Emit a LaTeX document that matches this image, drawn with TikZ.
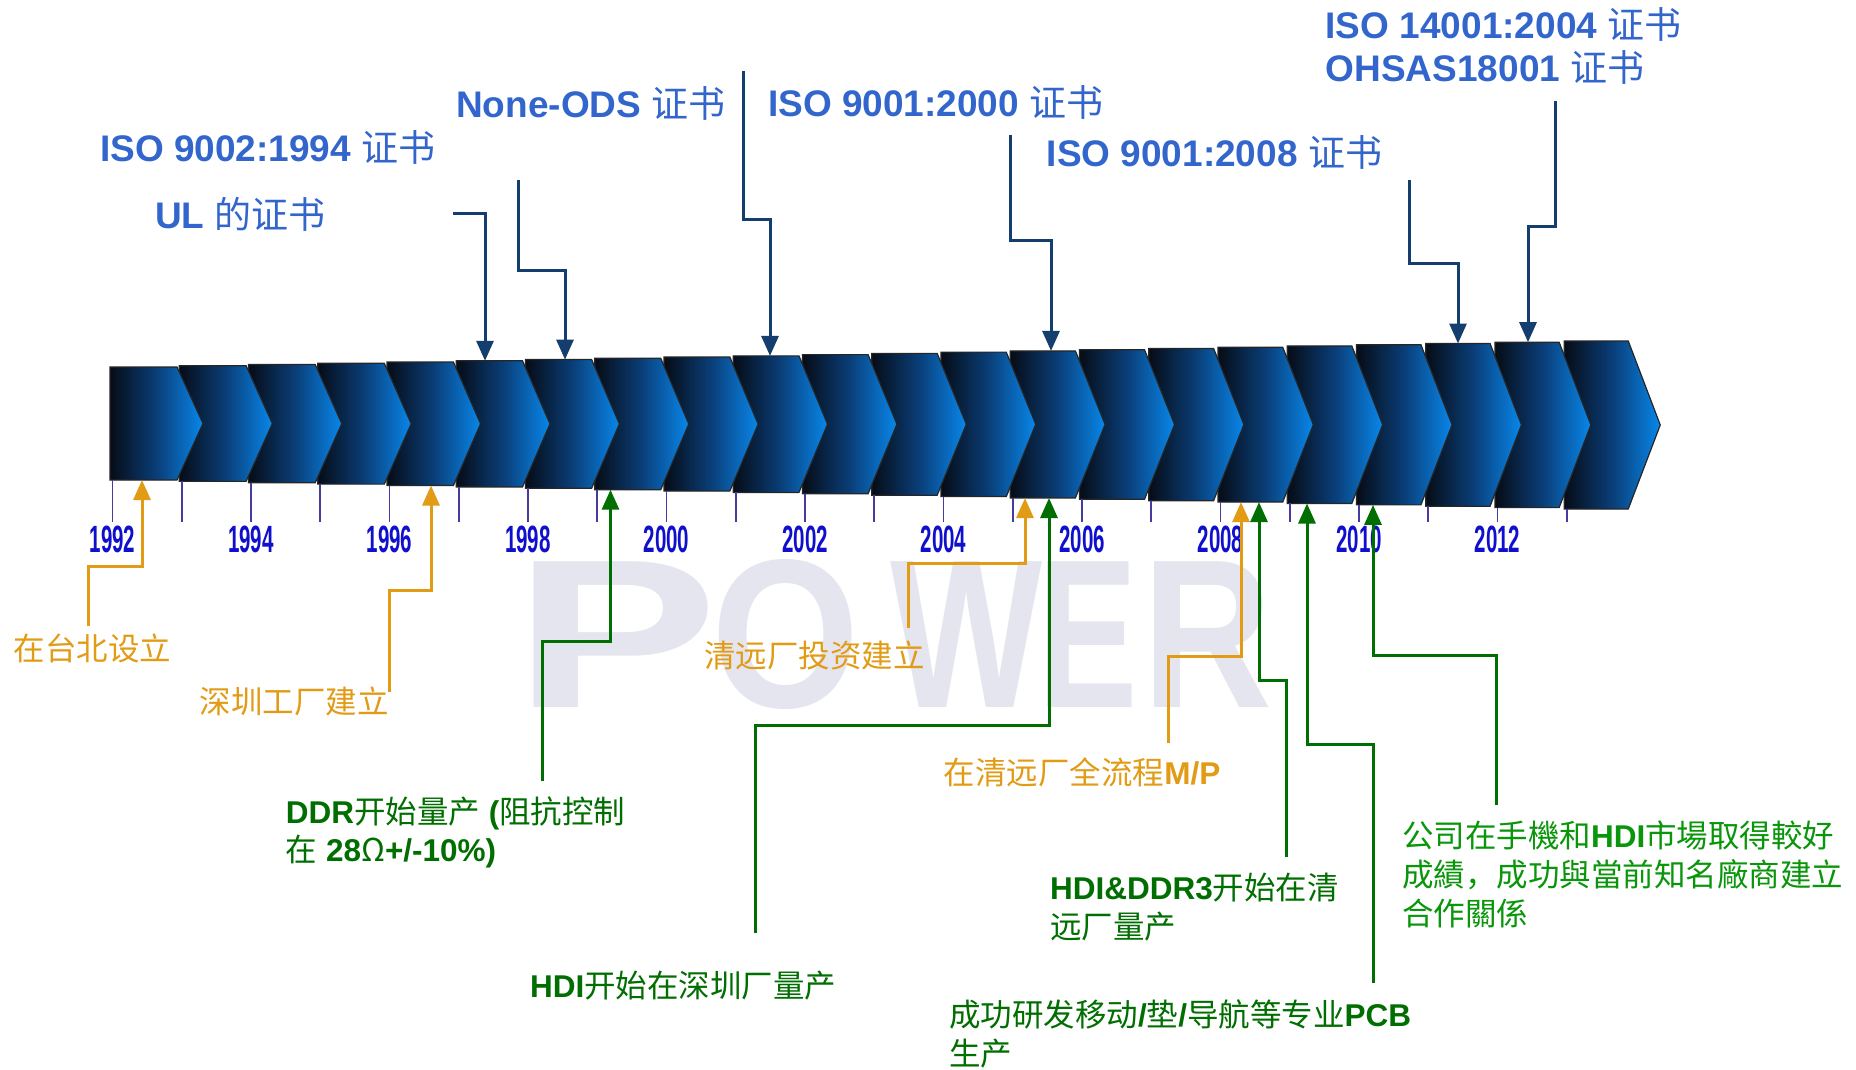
\documentclass[tikz,border=0pt]{standalone}
\usepackage{fontspec}
\setmainfont{Liberation Sans}
\newfontfamily\cjk{Noto Sans CJK SC}
\usetikzlibrary{arrows.meta}
\definecolor{topblue}{RGB}{51,102,204}
\definecolor{navyc}{RGB}{20,62,110}
\definecolor{orangeL}{RGB}{226,155,20}
\definecolor{greenD}{RGB}{0,110,0}
\definecolor{greenL}{RGB}{10,150,10}
\definecolor{tickc}{RGB}{70,60,160}
\definecolor{yearc}{RGB}{15,15,205}
\definecolor{wmc}{RGB}{229,229,239}
\definecolor{chevL}{RGB}{6,12,22}
\definecolor{chevM}{RGB}{10,62,120}
\definecolor{chevR}{RGB}{8,135,235}
\newcommand\zh[1]{{\cjk #1}}
\begin{document}
\begin{tikzpicture}[x=1pt,y=-1pt,
  chev/.style={draw=black!85, line width=1.2pt, left color=chevL, right color=chevR, middle color=chevM},
  tickline/.style={draw=tickc, line width=1.6pt},
  year/.style={font=\fontsize{38}{38}\selectfont\bfseries, text=yearc, xscale=0.54, fill=white, inner xsep=10pt, inner ysep=0.5pt},
  wmk/.style={font=\fontsize{212}{212}\selectfont\bfseries, text=wmc, inner sep=0, anchor=base},
  toplab/.style={inner sep=0, anchor=base west, text=topblue, font=\fontsize{37}{43.4}\selectfont},
  orlab/.style={inner sep=0, anchor=west, align=left, text=orangeL, font=\fontsize{31.5}{39}\selectfont},
  grlab/.style={inner sep=0, anchor=west, align=left, text=greenD, font=\fontsize{31.5}{39}\selectfont},
  tipa/.style={-{Triangle[width=17pt,length=20pt]}, line width=3pt},
  navyarr/.style={tipa, draw=navyc},
  orarr/.style={tipa, draw=orangeL},
  grarr/.style={tipa, draw=greenD}]
\useasboundingbox (0,0) rectangle (1856,1070);
\fill[white] (0,0) rectangle (1856,1070);
% watermark
\node[wmk, xscale=1.45] (wP) at (616,707) {P};
\node[wmk, xscale=0.90] (wO) at (785.5,707) {O};
\node[wmk, xscale=0.76] (wW) at (967,707) {W};
\node[wmk, xscale=0.71] (wE) at (1087.5,707) {E};
\node[wmk, xscale=0.85] (wR) at (1208,707) {R};
% chevrons (earlier ones on top)
\foreach \i in {21,20,...,0}{
  \pgfmathsetmacro\L{110+69.25*\i}
  \pgfmathsetmacro\T{367-26*\i/21}
  \pgfmathsetmacro\B{480+29*\i/21}
  \pgfmathsetmacro\C{(\T+\B)/2}
  \pgfmathsetmacro\P{\L+93+3*\i/21}
  \pgfmathsetmacro\S{\P-26-6*\i/21}
  \path[chev] (\L,\T) -- (\S,\T) -- (\P,\C) -- (\S,\B) -- (\L,\B) -- cycle;
}
% ticks
\foreach \i in {0,...,21}{
  \pgfmathsetmacro\L{112.5+69.25*\i}
  \pgfmathsetmacro\B{480+29*\i/21}
  \draw[tickline] (\L,\B) -- (\L,522);
}
% years
\foreach \i in {0,2,...,20}{
  \pgfmathsetmacro\L{112.5+69.25*\i}
  \pgfmathtruncatemacro\Y{1992+\i}
  \node[year] (y\Y) at (\L,539) {\Y};
}
% top labels
\node[toplab] (iso9002) at (100,162) {\textbf{ISO 9002:1994} \zh{证书}};
\node[toplab] (ul) at (155,228) {\textbf{UL} \zh{的证书}};
\node[toplab] (nods) at (456,118) {\textbf{None-ODS} \zh{证书}};
\node[toplab] (iso2000) at (768,117) {\textbf{ISO 9001:2000} \zh{证书}};
\node[toplab] (iso2008) at (1046.6,166.7) {\textbf{ISO 9001:2008} \zh{证书}};
\node[toplab, align=left] (iso14001) at (1325.5,81.7) {\textbf{ISO 14001:2004} \zh{证书}\\\textbf{OHSAS18001} \zh{证书}};
% bottom labels
\node[orlab] (taipei) at (13.4,648) {\zh{在台北设立}};
\node[orlab] (shenzhen) at (199.6,701) {\zh{深圳工厂建立}};
\node[orlab] (qingyuan) at (704,655.5) {\zh{清远厂投资建立}};
\node[orlab] (mp) at (943.6,772.5) {\zh{在清远厂全流程}\textbf{M/P}};
\node[grlab, font=\fontsize{31.5}{38}\selectfont] (ddr) at (285.7,832) {\textbf{DDR}\zh{开始量产} \textbf{(}\zh{阻抗控制}\\\zh{在} \textbf{28}\zh{Ω}\textbf{+/-10\%)}};
\node[grlab] (hdi) at (530,985.5) {\textbf{HDI}\zh{开始在深圳厂量产}};
\node[grlab] (hdiddr3) at (1050,907.5) {\textbf{HDI\&DDR3}\zh{开始在清}\\\zh{远厂量产}};
\node[grlab] (pcb) at (949,1034) {\zh{成功研发移动}\textbf{/}\zh{垫}\textbf{/}\zh{导航等专业}\textbf{PCB}\\\zh{生产}};
\node[grlab, text=greenL] (gongsi) at (1402,874) {\zh{公司在手機和}\textbf{HDI}\zh{市場取得較好}\\\zh{成績，成功與當前知名廠商建立}\\\zh{合作關係}};
% connector end points
\coordinate (s1) at (453,213);   \coordinate (e1) at (485,360.8);
\coordinate (s2) at (518,180);   \coordinate (e2) at (565,359.6);
\coordinate (s3) at (743,71);    \coordinate (e3) at (770,355.9);
\coordinate (s4) at (1010,135);  \coordinate (e4) at (1051,350.9);
\coordinate (s5) at (1409,180);  \coordinate (e5) at (1458,343.5);
\coordinate (s6) at (1555,101);  \coordinate (e6) at (1528,342.2);
\coordinate (b1) at (88,626);    \coordinate (f1) at (142,480);
\coordinate (b2) at (389,692);   \coordinate (f2) at (431,485.5);
\coordinate (b3) at (542,781);   \coordinate (f3) at (610.5,489.7);
\coordinate (b4) at (908.7,628); \coordinate (f4) at (1025,498);
\coordinate (b5) at (755,933);   \coordinate (f5) at (1049,498);
\coordinate (b6) at (1168,743);  \coordinate (f6) at (1241,502.1);
\coordinate (b7) at (1286,857);  \coordinate (f7) at (1259,502.1);
\coordinate (b8) at (1373,983);  \coordinate (f8) at (1307,503.5);
\coordinate (b9) at (1496,805);  \coordinate (f9) at (1373,504.9);
% top connectors
\draw[navyarr] (s1) -| (e1);
\draw[navyarr] (s2) -- ++(0,90) -| (e2);
\draw[navyarr] (s3) -- ++(0,148) -| (e3);
\draw[navyarr] (s4) -- ++(0,105) -| (e4);
\draw[navyarr] (s5) -- ++(0,83) -| (e5);
\draw[navyarr] (s6) -- ++(0,125) -| (e6);
% bottom connectors
\draw[orarr] (b1) -- ++(0,-59.3) -| (f1);
\draw[orarr] (b2) -- ++(0,-102) -| (f2);
\draw[grarr] (b3) -- ++(0,-139.4) -| (f3);
\draw[orarr] (b4) -- ++(0,-64.7) -| (f4);
\draw[grarr] (b5) -- ++(0,-208) -| (f5);
\draw[orarr] (b6) -- ++(0,-87) -| (f6);
\draw[grarr] (b7) -- ++(0,-176.4) -| (f7);
\draw[grarr] (b8) -- ++(0,-239) -| (f8);
\draw[grarr] (b9) -- ++(0,-150) -| (f9);
\end{tikzpicture}
\end{document}
